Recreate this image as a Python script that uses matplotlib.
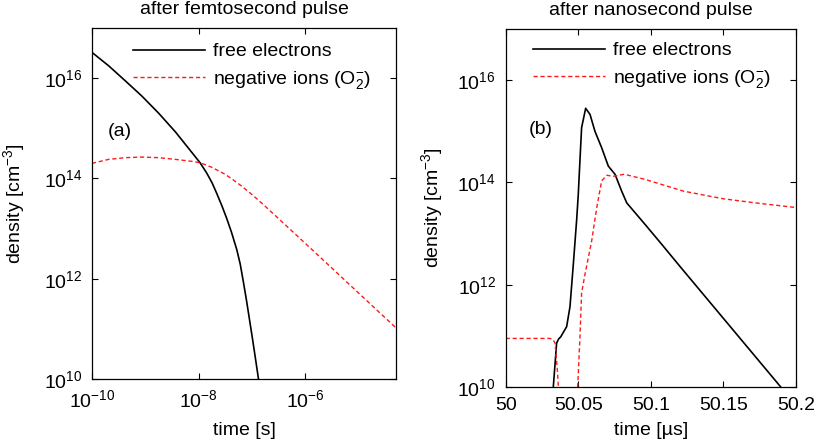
import matplotlib
matplotlib.use("Agg")
import matplotlib.pyplot as plt
import numpy as np

plt.rcParams["font.family"] = ["Liberation Sans", "DejaVu Sans"]
plt.rcParams["mathtext.fontset"] = "custom"
plt.rcParams["mathtext.rm"] = "Liberation Sans"
plt.rcParams["mathtext.it"] = "Liberation Sans:italic"
plt.rcParams["mathtext.default"] = "regular"
plt.rcParams["font.size"] = 14

# ---- left panel: after femtosecond pulse (log10 of time [s], log10 of density)
fs_log_t_e = [-10, -9.687, -9.375, -9.062, -8.749, -8.437, -8.124, -7.974,
              -7.85, -7.749, -7.66, -7.561, -7.473, -7.385, -7.285, -7.22,
              -7.16, -7.10, -7.036, -6.99, -6.94, -6.88, -6.86]
fs_log_n_e = [16.514, 16.246, 15.946, 15.64, 15.30, 14.93, 14.514, 14.314,
              14.11, 13.914, 13.70, 13.446, 13.20, 12.93, 12.58, 12.29,
              11.93, 11.55, 11.114, 10.80, 10.446, 10.014, 9.8]
fs_log_t_ion = [-10, -9.687, -9.375, -9.062, -8.749, -8.437, -8.124, -7.974,
                -7.75, -7.50, -7.35, -7.186, -7.036, -6.91, -6.81, -6.722,
                -6.097, -5.47, -4.846, -4.30]
fs_log_n_ion = [14.30, 14.38, 14.414, 14.426, 14.414, 14.38, 14.34, 14.314,
                14.22, 14.08, 13.97, 13.84, 13.71, 13.595, 13.50, 13.415,
                12.80, 12.18, 11.56, 11.02]

# ---- right panel: after nanosecond pulse (time [us], log10 of density)
ns_t_e = [50.031, 50.0328, 50.0351, 50.0365, 50.0379, 50.042, 50.0443,
          50.0466, 50.0489, 50.05, 50.0512, 50.0523, 50.0551, 50.0581,
          50.0615, 50.0661, 50.0707, 50.0753, 50.0799, 50.0834, 50.096,
          50.1075, 50.12, 50.1895, 50.195]
ns_log_n_e = [8.0, 10.0, 10.86, 10.94, 10.98, 11.18, 11.57,
              12.4, 13.27, 13.76, 14.45, 15.07, 15.45, 15.33,
              15.0, 14.68, 14.32, 14.16, 13.83, 13.60, 13.18,
              12.79, 12.36, 10.0, 9.8]
ns_t_ion = [50.0, 50.0305, 50.0325, 50.034, 50.0356, 50.0363, 50.037, 50.049,
            50.0496, 50.0512, 50.0523, 50.0546, 50.0592, 50.0627, 50.0661,
            50.0696, 50.0741, 50.0817, 50.096, 50.1224, 50.15, 50.175, 50.2]
ns_log_n_ion = [10.95, 10.95, 10.93, 10.86, 10.33, 10.0, 9.0, 9.0,
                10.0, 10.99, 11.84, 12.2, 12.85, 13.5, 14.03,
                14.14, 14.12, 14.16, 14.06, 13.83, 13.68, 13.59, 13.51]

labels = ["free electrons", "negative ions (O$_2^{-}$)"]


def style_axes(ax):
    ax.tick_params(which="both", direction="in", top=True, right=True,
                   length=4, width=0.8, pad=7, labelsize=14)
    ax.tick_params(which="minor", length=0)
    for s in ax.spines.values():
        s.set_linewidth(0.9)


fig = plt.figure(figsize=(8.16, 4.43), dpi=100)
ax1 = fig.add_axes([0.1127, 0.1445, 0.3725, 0.7923])
ax2 = fig.add_axes([0.6197, 0.1264, 0.3558, 0.8081])

# left
ax1.plot(10 ** np.array(fs_log_t_e), 10 ** np.array(fs_log_n_e), color="k", lw=1.2,
         label=labels[0])
ax1.plot(10 ** np.array(fs_log_t_ion), 10 ** np.array(fs_log_n_ion), color="#ff1a1a",
         lw=1.0, dashes=(3, 2), label=labels[1])
ax1.set_xscale("log")
ax1.set_yscale("log")
ax1.set_xlim(1e-10, 5e-5)
ax1.set_ylim(1e10, 1e17)
ax1.set_xticks([1e-10, 1e-8, 1e-6])
ax1.set_yticks([1e10, 1e12, 1e14, 1e16])
style_axes(ax1)
ax1.set_title("after femtosecond pulse", fontsize=14, pad=10)
ax1.set_xlabel("time [s]")
ax1.set_ylabel("density [cm$^{-3}$]")
ax1.xaxis.set_label_coords(0.5, -0.122)
ax1.yaxis.set_label_coords(-0.214, 0.5)
ax1.text(0.092, 0.705, "(a)", transform=ax1.transAxes, ha="center", va="center")
ax1.legend(loc="upper left", bbox_to_anchor=(0.135, 0.958), frameon=False,
           borderpad=0, borderaxespad=0, handlelength=3.7, handletextpad=0.41,
           labelspacing=0.45, fontsize=14)

# right
ax2.plot(ns_t_e, 10 ** np.array(ns_log_n_e), color="k", lw=1.2, label=labels[0])
ax2.plot(ns_t_ion, 10 ** np.array(ns_log_n_ion), color="#ff1a1a", lw=1.0,
         dashes=(3, 2), label=labels[1])
ax2.set_yscale("log")
ax2.set_xlim(50, 50.2)
ax2.set_ylim(1e10, 1e17)
ax2.set_xticks([50, 50.05, 50.1, 50.15, 50.2])
ax2.set_xticklabels(["50", "50.05", "50.1", "50.15", "50.2"])
ax2.set_yticks([1e10, 1e12, 1e14, 1e16])
style_axes(ax2)
ax2.set_title("after nanosecond pulse", fontsize=14, pad=10)
ax2.set_xlabel("time [µs]")
ax2.set_ylabel("density [cm$^{-3}$]")
ax2.xaxis.set_label_coords(0.5, -0.097)
ax2.yaxis.set_label_coords(-0.209, 0.5)
ax2.text(0.12, 0.718, "(b)", transform=ax2.transAxes, ha="center", va="center")
ax2.legend(loc="upper left", bbox_to_anchor=(0.093, 0.9645), frameon=False,
           borderpad=0, borderaxespad=0, handlelength=3.7, handletextpad=0.41,
           labelspacing=0.45, fontsize=14)

fig.savefig("out.png", dpi=100)
